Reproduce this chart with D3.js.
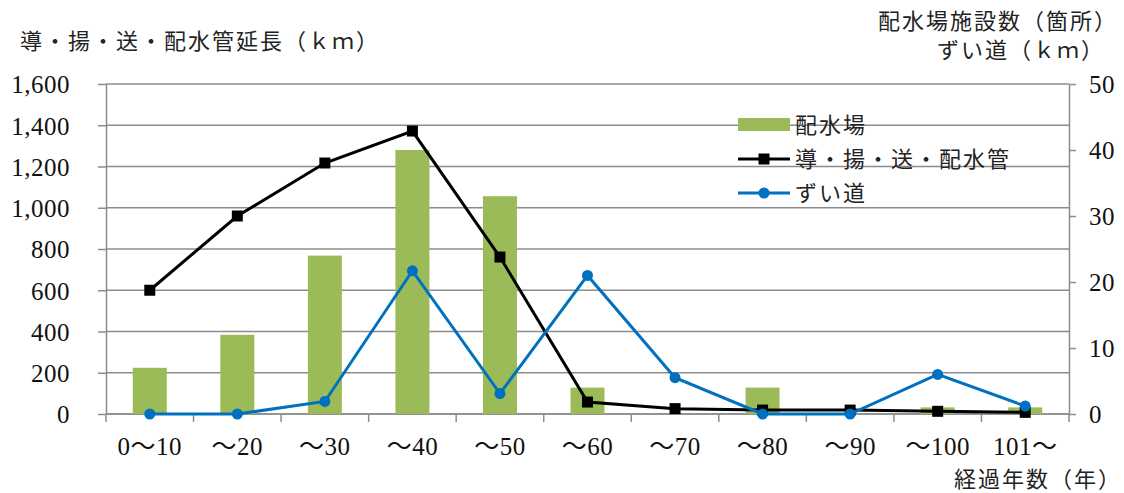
<!doctype html>
<html>
  <head>
    <meta charset="utf-8">
    <script src="https://cdnjs.cloudflare.com/ajax/libs/d3/7.8.5/d3.min.js"></script>
    <style>
      body { margin: 0; background: #fff; }
      svg { display: block; }
      .jp { font-family: "Noto Sans CJK JP", sans-serif; font-size: 22px; fill: #222; letter-spacing: 2px; }
      .num { font-family: "Liberation Serif", "Noto Sans CJK JP", serif; font-size: 25px; fill: #111; letter-spacing: 0.5px; }
      .grid line { stroke: #8c8c8c; stroke-width: 1.5px; }
      .axis path, .axis line { stroke: #8c8c8c; stroke-width: 1.5px; }
    </style>
  </head>
  <body>
    <svg id="chart" width="1124" height="493"></svg>
    <script>
      // age brackets (years elapsed)
      var categories = ["0〜10", "〜20", "〜30", "〜40", "〜50", "〜60", "〜70", "〜80", "〜90", "〜100", "101〜"];
      // 配水場施設数 (箇所) - right axis
      var facilities = [7, 12, 24, 40, 33, 4, 0, 4, 0, 1, 1];
      // 導・揚・送・配水管延長 (km) - left axis
      var pipes = [600, 960, 1217, 1372, 761, 58, 26, 19, 19, 13, 8];
      // ずい道 (km) - right axis
      var tunnels = [0, 0, 1.9, 21.7, 3.1, 21.0, 5.5, 0, 0, 6.0, 1.2];

      var leftTicks = [0, 200, 400, 600, 800, 1000, 1200, 1400, 1600];
      var rightTicks = [0, 10, 20, 30, 40, 50];

      var svg = d3.select("#chart");
      // note: "top" is a reserved window global, so use plot* names
      var plotLeft = 106, plotRight = 1069, plotTop = 84, plotBottom = 414;

      var x = d3.scaleBand().domain(categories).range([plotLeft, plotRight]);
      var yL = d3.scaleLinear().domain([0, 1600]).range([plotBottom, plotTop]);
      var yR = d3.scaleLinear().domain([0, 50]).range([plotBottom, plotTop]);
      var barW = 34;

      // horizontal gridlines follow the left axis
      svg.append("g").attr("class", "grid")
        .selectAll("line").data(leftTicks).enter().append("line")
          .attr("x1", plotLeft).attr("x2", plotRight)
          .attr("y1", d => yL(d)).attr("y2", d => yL(d));

      // left axis
      var axL = svg.append("g").attr("class", "axis")
          .attr("transform", "translate(" + plotLeft + ",0)")
          .call(d3.axisLeft(yL).tickValues(leftTicks).tickSize(8).tickPadding(28)
            .tickSizeOuter(0).tickFormat(d3.format(",")));
      axL.selectAll("text").attr("class", "num").attr("dy", "0.35em");

      // right axis
      var axR = svg.append("g").attr("class", "axis")
          .attr("transform", "translate(" + plotRight + ",0)")
          .call(d3.axisRight(yR).tickValues(rightTicks).tickSize(7).tickPadding(13).tickSizeOuter(0));
      axR.selectAll("text").attr("class", "num").attr("dy", "0.35em");

      // bottom axis: line, boundary ticks, category labels
      var axB = svg.append("g").attr("class", "axis");
      axB.append("line").attr("x1", plotLeft).attr("x2", plotRight).attr("y1", plotBottom).attr("y2", plotBottom);
      axB.selectAll("line.tick").data(categories.concat([null])).enter().append("line")
          .attr("class", "tick")
          .attr("x1", d => d === null ? x.range()[1] : x(d))
          .attr("x2", d => d === null ? x.range()[1] : x(d))
          .attr("y1", plotBottom).attr("y2", plotBottom + 8);
      axB.selectAll("text").data(categories).enter().append("text")
          .attr("class", "num")
          .attr("text-anchor", "middle")
          .attr("x", d => x(d) + x.bandwidth() / 2)
          .attr("y", 455)
          .text(d => d);

      // bars
      svg.append("g").selectAll("rect").data(facilities).enter().append("rect")
          .attr("x", (d, i) => x(categories[i]) + (x.bandwidth() - barW) / 2)
          .attr("width", barW)
          .attr("y", d => yR(d))
          .attr("height", d => plotBottom - yR(d))
          .attr("fill", "#9bbb59");

      // pipe length line
      var cx = (d, i) => x(categories[i]) + x.bandwidth() / 2;
      svg.append("path").datum(pipes)
          .attr("fill", "none").attr("stroke", "#000").attr("stroke-width", 3)
          .attr("d", d3.line().x(cx).y(d => yL(d)));
      svg.append("g").selectAll("rect").data(pipes).enter().append("rect")
          .attr("x", (d, i) => cx(d, i) - 5.5).attr("y", d => yL(d) - 5.5)
          .attr("width", 11).attr("height", 11).attr("fill", "#000");

      // tunnel line
      svg.append("path").datum(tunnels)
          .attr("fill", "none").attr("stroke", "#0070c0").attr("stroke-width", 3)
          .attr("d", d3.line().x(cx).y(d => yR(d)));
      svg.append("g").selectAll("circle").data(tunnels).enter().append("circle")
          .attr("cx", cx).attr("cy", d => yR(d)).attr("r", 5.5).attr("fill", "#0070c0");

      // legend
      var lg = svg.append("g").attr("transform", "translate(738,0)");
      lg.append("rect").attr("x", 0).attr("y", 118).attr("width", 52).attr("height", 13).attr("fill", "#9bbb59");
      lg.append("line").attr("x1", 0).attr("x2", 52).attr("y1", 159).attr("y2", 159)
        .attr("stroke", "#000").attr("stroke-width", 3);
      lg.append("rect").attr("x", 20.5).attr("y", 153.5).attr("width", 11).attr("height", 11).attr("fill", "#000");
      lg.append("line").attr("x1", 0).attr("x2", 52).attr("y1", 193).attr("y2", 193)
        .attr("stroke", "#0070c0").attr("stroke-width", 3);
      lg.append("circle").attr("cx", 26).attr("cy", 193).attr("r", 5.5).attr("fill", "#0070c0");
      var legendNames = ["配水場", "導・揚・送・配水管", "ずい道"];
      lg.selectAll("text").data(legendNames).enter().append("text")
          .attr("class", "jp")
          .attr("x", 57)
          .attr("y", (d, i) => [125, 159, 193][i])
          .attr("dy", "0.36em")
          .text(d => d);

      // axis titles
      svg.append("text").attr("class", "jp").attr("x", 20).attr("y", 49)
        .text("導・揚・送・配水管延長（ｋｍ）");
      svg.append("text").attr("class", "jp").attr("x", 1118).attr("y", 29).attr("text-anchor", "end")
        .text("配水場施設数（箇所）");
      svg.append("text").attr("class", "jp").attr("x", 1105).attr("y", 58).attr("text-anchor", "end")
        .text("ずい道（ｋｍ）");
      svg.append("text").attr("class", "jp").attr("x", 1122).attr("y", 487).attr("text-anchor", "end")
        .text("経過年数（年）");
    </script>
  </body>
</html>
